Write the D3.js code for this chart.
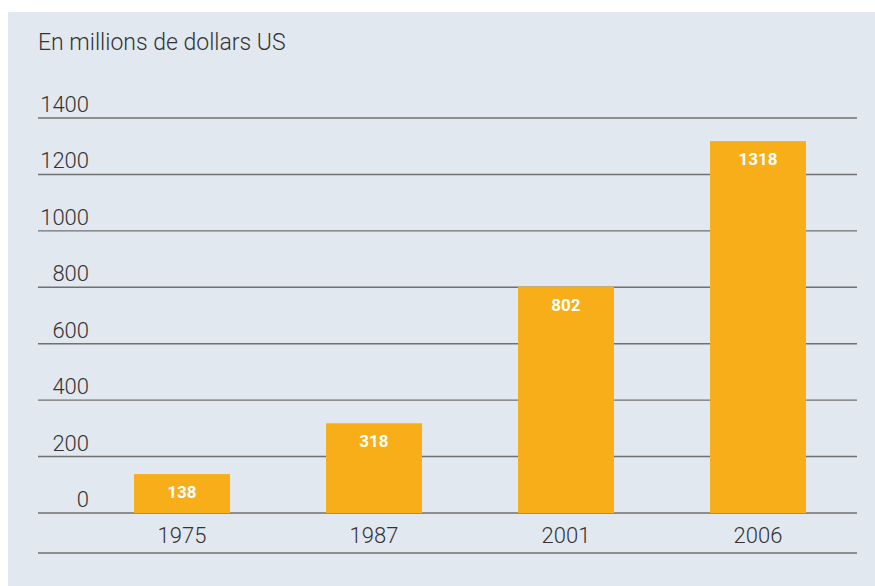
<!DOCTYPE html>
<html lang="fr">
<head>
  <meta charset="UTF-8">
  <title>En millions de dollars US</title>
  <script src="https://d3js.org/d3.v7.min.js"></script>
  <style>
    * { margin: 0; padding: 0; box-sizing: border-box; }
    body { background: #fff; font-family: Roboto, "Liberation Sans", Arial, sans-serif; }
  </style>
</head>
<body>
  <div id="chart"></div>
  <script>
    const years = ["1975", "1987", "2001", "2006"];
    const values = [138, 318, 802, 1318];
    const yTicks = [0, 200, 400, 600, 800, 1000, 1200, 1400];

    const W = 875, H = 586;
    const svg = d3.select("#chart").append("svg")
      .attr("width", W).attr("height", H);

    // panel background
    svg.append("rect")
      .attr("x", 8).attr("y", 12)
      .attr("width", W - 8).attr("height", H - 12)
      .attr("fill", "#e2e8ef");

    svg.append("text")
      .attr("x", 38).attr("y", 50)
      .style("font-size", "23px").style("font-weight", 300)
      .attr("fill", "#333")
      .text("En millions de dollars US");

    const gridLeft = 38, gridRight = 857;

    const x = d3.scaleBand()
      .domain(years)
      .range([86, 854])
      .paddingInner(0.5)
      .paddingOuter(0.25);

    const y = d3.scaleLinear()
      .domain([0, 1400])
      .range([513, 118]);

    // grid lines
    svg.append("g").selectAll("line")
      .data(yTicks)
      .join("line")
      .attr("x1", gridLeft).attr("x2", gridRight)
      .attr("y1", d => y(d)).attr("y2", d => y(d))
      .attr("stroke", "#707070").attr("stroke-width", 1.4);

    // tick labels
    svg.append("g").selectAll("text")
      .data(yTicks)
      .join("text")
      .attr("x", 89).attr("y", d => y(d) - 6)
      .attr("text-anchor", "end")
      .style("font-size", "22px").style("font-weight", 300)
      .attr("fill", "#333")
      .text(d => d);

    // bars
    svg.append("g").selectAll("rect")
      .data(values)
      .join("rect")
      .attr("x", (d, i) => x(years[i]))
      .attr("y", d => y(d))
      .attr("width", x.bandwidth())
      .attr("height", d => y(0) - y(d))
      .attr("fill", "#f7ae18");

    svg.append("g").selectAll("text")
      .data(values)
      .join("text")
      .attr("x", (d, i) => x(years[i]) + x.bandwidth() / 2)
      .attr("y", d => y(d) + 24)
      .attr("text-anchor", "middle")
      .style("font-size", "17px").style("font-weight", 700)
      .attr("fill", "#fff")
      .text(d => d);

    // x axis labels + bottom line
    svg.append("g").selectAll("text")
      .data(years)
      .join("text")
      .attr("x", d => x(d) + x.bandwidth() / 2)
      .attr("y", 543)
      .attr("text-anchor", "middle")
      .style("font-size", "22px").style("font-weight", 300)
      .attr("fill", "#333")
      .text(d => d);

    svg.append("line")
      .attr("x1", gridLeft).attr("x2", gridRight)
      .attr("y1", 553).attr("y2", 553)
      .attr("stroke", "#707070").attr("stroke-width", 1.4);
  </script>
</body>
</html>
